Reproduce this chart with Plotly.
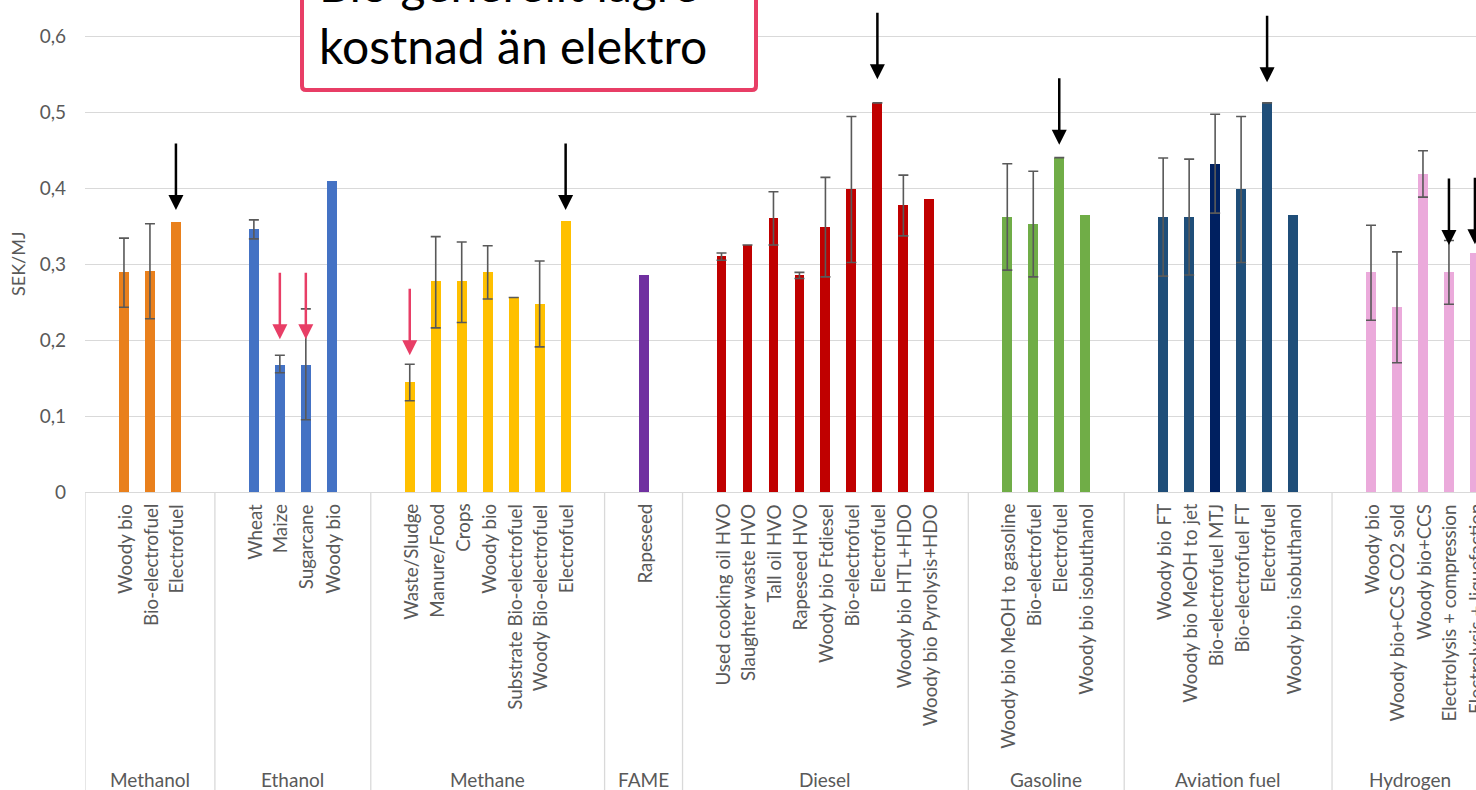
import plotly.graph_objects as go

# ---- data: production cost per fuel pathway (SEK/MJ) ----
groups = ["Methanol", "Ethanol", "Methane", "FAME", "Diesel", "Gasoline", "Aviation fuel", "Hydrogen"]

methanol_labels = ["Woody bio", "Bio-electrofuel", "Electrofuel"]
methanol_cost = [0.289, 0.291, 0.355]
methanol_hi = [0.334, 0.353, None]
methanol_lo = [0.243, 0.228, None]

ethanol_labels = ["Wheat", "Maize", "Sugarcane", "Woody bio"]
ethanol_cost = [0.346, 0.1675, 0.1675, 0.409]
ethanol_hi = [0.358, 0.180, 0.241, None]
ethanol_lo = [0.333, 0.157, 0.095, None]

methane_labels = ["Waste/Sludge", "Manure/Food", "Crops", "Woody bio",
                  "Substrate Bio-electrofuel", "Woody Bio-electrofuel", "Electrofuel"]
methane_cost = [0.145, 0.277, 0.277, 0.289, 0.256, 0.248, 0.356]
methane_hi = [0.168, 0.336, 0.329, 0.324, 0.256, 0.304, None]
methane_lo = [0.120, 0.216, 0.223, 0.254, 0.256, 0.191, None]

fame_labels = ["Rapeseed"]
fame_cost = [0.286]
fame_hi = [None]
fame_lo = [None]

diesel_labels = ["Used cooking oil HVO", "Slaughter waste HVO", "Tall oil HVO", "Rapeseed HVO",
                 "Woody bio Ftdiesel", "Bio-electrofuel", "Electrofuel",
                 "Woody bio HTL+HDO", "Woody bio Pyrolysis+HDO"]
diesel_cost = [0.310, 0.325, 0.360, 0.2855, 0.349, 0.399, 0.512, 0.378, 0.3855]
diesel_hi = [0.3145, 0.325, 0.395, 0.289, 0.414, 0.494, 0.512, 0.417, None]
diesel_lo = [0.305, 0.325, 0.325, 0.281, 0.283, 0.302, 0.512, 0.337, None]

gasoline_labels = ["Woody bio MeOH to gasoline", "Bio-electrofuel", "Electrofuel", "Woody bio isobuthanol"]
gasoline_cost = [0.362, 0.353, 0.440, 0.364]
gasoline_hi = [0.432, 0.422, 0.440, None]
gasoline_lo = [0.292, 0.283, 0.440, None]

aviation_labels = ["Woody bio FT", "Woody bio MeOH to jet", "Bio-electrofuel MTJ",
                   "Bio-electrofuel FT", "Electrofuel", "Woody bio isobuthanol"]
aviation_cost = [0.362, 0.362, 0.432, 0.399, 0.512, 0.364]
aviation_hi = [0.4395, 0.438, 0.497, 0.494, 0.512, None]
aviation_lo = [0.284, 0.2855, 0.367, 0.302, 0.512, None]

hydrogen_labels = ["Woody bio", "Woody bio+CCS CO2 sold", "Woody bio+CCS",
                   "Electrolysis + compression", "Electrolysis + liquefaction"]
hydrogen_cost = [0.289, 0.2434, 0.419, 0.289, 0.314]
hydrogen_hi = [0.351, 0.316, 0.449, 0.331, None]
hydrogen_lo = [0.226, 0.170, 0.388, 0.247, None]

y_ticks = [0, 0.1, 0.2, 0.3, 0.4, 0.5, 0.6]
y_ticktext = ["0", "0,1", "0,2", "0,3", "0,4", "0,5", "0,6"]

# highlight arrows: (group, pathway, value at arrow tip, kind)
arrows = [
    ("Methanol", "Electrofuel", 0.371, "electro"),
    ("Ethanol", "Maize", 0.201, "bio"),
    ("Ethanol", "Sugarcane", 0.201, "bio"),
    ("Methane", "Waste/Sludge", 0.180, "bio"),
    ("Methane", "Electrofuel", 0.371, "electro"),
    ("Diesel", "Electrofuel", 0.543, "electro"),
    ("Gasoline", "Electrofuel", 0.457, "electro"),
    ("Aviation fuel", "Electrofuel", 0.539, "electro"),
    ("Hydrogen", "Electrolysis + compression", 0.325, "electro"),
    ("Hydrogen", "Electrolysis + liquefaction", 0.326, "electro"),
]

callout_text = "Bio generellt lägre<br>kostnad än elektro"

# ---- styling ----
group_colors = {
    "Methanol": "#E9801C", "Ethanol": "#4472C4", "Methane": "#FFC000", "FAME": "#7030A0",
    "Diesel": "#C00000", "Gasoline": "#70AD47", "Aviation fuel": "#1F4E79", "Hydrogen": "#EBAADB",
}
special_colors = {("Aviation fuel", "Bio-electrofuel MTJ"): "#002060"}
arrow_colors = {"electro": "#000000", "bio": "#E83E66"}
FONT = "Lato"
TEXT_GREY = "#595959"
LINE_GREY = "#D9D9D9"
BOX_RED = "#E83E66"

series = [
    (methanol_labels, methanol_cost, methanol_hi, methanol_lo),
    (ethanol_labels, ethanol_cost, ethanol_hi, ethanol_lo),
    (methane_labels, methane_cost, methane_hi, methane_lo),
    (fame_labels, fame_cost, fame_hi, fame_lo),
    (diesel_labels, diesel_cost, diesel_hi, diesel_lo),
    (gasoline_labels, gasoline_cost, gasoline_hi, gasoline_lo),
    (aviation_labels, aviation_cost, aviation_hi, aviation_lo),
    (hydrogen_labels, hydrogen_cost, hydrogen_hi, hydrogen_lo),
]

# plot-area geometry in pixels
W, H = 1476, 790
L, T, B = 85, 0, 298
PW, PH = W - L, H - T - B
SLOT = 25.98
x_max = PW / SLOT - 0.5
y_top = 0.6 * PH / (PH - 36)  # 0,6 gridline sits 36 px below the top edge


def px_to_paper_x(px):
    return (px - L) / PW


def px_to_paper_y(py):
    return (T + PH - py) / PH


fig = go.Figure()
annotations = []
shapes = []

slot = 0
boundaries = [-0.5]
pos_lookup = {}
for gi, (g, (labels, cost, hi, lo)) in enumerate(zip(groups, series)):
    start = slot
    slot += 1  # leading blank slot
    xs = []
    for lab in labels:
        xs.append(slot)
        pos_lookup[(g, lab)] = slot
        slot += 1
    last = gi == len(groups) - 1
    if not last:
        slot += 1  # trailing blank slot
    end = slot
    boundaries.append(end - 0.5)

    colors = [special_colors.get((g, lab), group_colors[g]) for lab in labels]
    fig.add_trace(go.Bar(x=xs, y=cost, width=0.38, marker=dict(color=colors, line=dict(width=0)),
                         name=g, showlegend=False, hoverinfo="skip"))

    # error bars for pathways with a reported range
    ex, ey, eplus, eminus = [], [], [], []
    for x, c, h, l_ in zip(xs, cost, hi, lo):
        if h is not None:
            ex.append(x)
            ey.append(c)
            eplus.append(max(h - c, 0))
            eminus.append(max(c - l_, 0))
    if ex:
        fig.add_trace(go.Scatter(
            x=ex, y=ey, mode="markers", marker=dict(size=0.1, opacity=0),
            error_y=dict(type="data", symmetric=False, array=eplus, arrayminus=eminus,
                         color=TEXT_GREY, thickness=1.6, width=5),
            showlegend=False, hoverinfo="skip"))

    # pathway labels (rotated)
    for x, lab in zip(xs, labels):
        annotations.append(dict(
            x=x, y=0, xref="x", yref="y", text=lab, textangle=-90, showarrow=False,
            xanchor="center", yanchor="top", yshift=-10,
            font=dict(family=FONT, size=18.8, color=TEXT_GREY)))

    # group label
    centre = (start - 0.5 + end - 0.5) / 2
    annotations.append(dict(
        x=centre, y=px_to_paper_y(779), xref="x", yref="paper", text=g, showarrow=False,
        xanchor="center", yanchor="middle",
        font=dict(family=FONT, size=19, color=TEXT_GREY)))

# group separators below the axis
for bx in boundaries[:-1]:
    shapes.append(dict(type="line", xref="x", yref="paper", x0=bx, x1=bx,
                       y0=0, y1=px_to_paper_y(H + 2), line=dict(color=LINE_GREY, width=1.3)))

# highlight arrows
for g, lab, tip, kind in arrows:
    annotations.append(dict(
        x=pos_lookup[(g, lab)], y=tip, xref="x", yref="y", ax=0, ay=-68,
        axref="pixel", ayref="pixel", text="", showarrow=True,
        arrowhead=2, arrowsize=1.2, arrowwidth=2.5, arrowcolor=arrow_colors[kind], standoff=0))

# call-out box with slightly rounded corners
bx0, bx1 = px_to_paper_x(302), px_to_paper_x(756)
by0, by1 = px_to_paper_y(90), px_to_paper_y(-30)
rx, ry = 4 / PW, 4 / PH
box_path = (f"M{bx0},{by1} L{bx0},{by0 + ry} Q{bx0},{by0} {bx0 + rx},{by0} "
            f"L{bx1 - rx},{by0} Q{bx1},{by0} {bx1},{by0 + ry} L{bx1},{by1} Z")
shapes.append(dict(type="path", xref="paper", yref="paper", path=box_path,
                   line=dict(color=BOX_RED, width=4), fillcolor="white", layer="above"))
annotations.append(dict(
    x=px_to_paper_x(317), y=px_to_paper_y(76), xref="paper", yref="paper",
    text=callout_text, showarrow=False, xanchor="left", yanchor="bottom", align="left",
    font=dict(family=FONT, size=48, color="black")))

# axis title
annotations.append(dict(
    x=0, y=0.3, xref="paper", yref="y", xshift=-67, text="SEK/MJ", textangle=-90,
    showarrow=False, xanchor="center", yanchor="middle",
    font=dict(family=FONT, size=18, color=TEXT_GREY)))

fig.update_layout(
    width=W, height=H,
    margin=dict(l=L, r=0, t=T, b=B, pad=0),
    plot_bgcolor="white", paper_bgcolor="white",
    bargap=0, barmode="overlay",
    xaxis=dict(range=[-0.5, x_max], showticklabels=False, showgrid=False, zeroline=False,
               showline=True, linecolor=LINE_GREY, linewidth=1.3, ticks=""),
    yaxis=dict(range=[0, y_top], tickvals=y_ticks, ticktext=y_ticktext,
               showgrid=True, gridcolor=LINE_GREY, gridwidth=1.3, zeroline=False,
               ticks="", ticklabelstandoff=18,
               tickfont=dict(family=FONT, size=19, color=TEXT_GREY)),
    annotations=annotations, shapes=shapes,
)

fig.write_html("out.html")
